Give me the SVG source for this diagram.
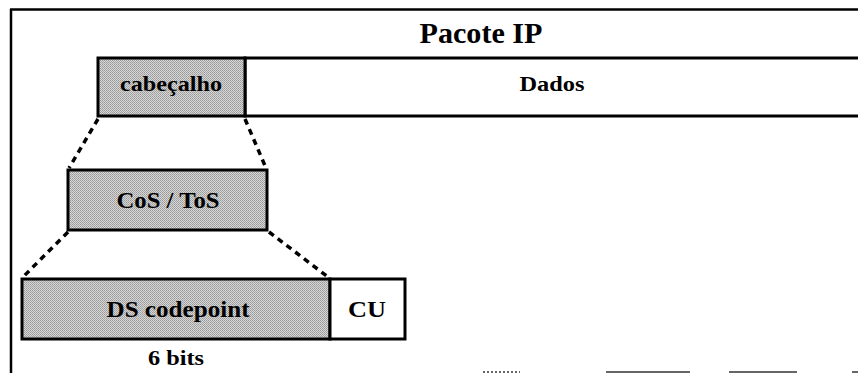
<svg xmlns="http://www.w3.org/2000/svg" width="858" height="373" viewBox="0 0 858 373">
<style>
  .box { stroke: #000; stroke-width: 3; }
  .grey { fill: url(#dither); }
  .white { fill: #fff; }
  .lbl { font-family: "Liberation Serif", "Times New Roman", serif; font-weight: bold; fill: #000; text-anchor: middle; }
  .dash { stroke: #000; stroke-width: 3.5; stroke-dasharray: 6 5; fill: none; }
  .frame { stroke: #000; stroke-width: 2.5; fill: none; }
</style>
<defs>
  <pattern id="dither" width="2" height="2" patternUnits="userSpaceOnUse">
    <rect width="2" height="2" fill="#d6d6d6"/>
    <rect x="0" y="0" width="1" height="1" fill="#9a9a9a"/>
    <rect x="1" y="1" width="1" height="1" fill="#a8a8a8"/>
  </pattern>
</defs>
<rect width="858" height="373" fill="#fff"/>

<g id="frame">
  <line class="frame" x1="11" y1="9" x2="11" y2="373"/>
  <line class="frame" x1="10" y1="9.5" x2="858" y2="9.5" stroke-width="3"/>
  <g stroke="#333" stroke-width="1.5">
    <line x1="483" y1="372" x2="520" y2="372" stroke-dasharray="2 2"/>
    <line x1="606" y1="372" x2="690" y2="372"/>
    <line x1="729" y1="372" x2="797" y2="372"/>
    <line x1="852" y1="372" x2="858" y2="372"/>
  </g>
</g>

<g id="pacote-ip">
  <text class="lbl" x="481" y="43" font-size="29" textLength="123" lengthAdjust="spacingAndGlyphs">Pacote IP</text>
</g>

<g id="dados">
  <rect class="box white" x="245" y="58" width="620" height="58"/>
  <text class="lbl" x="552" y="91" font-size="21" textLength="65" lengthAdjust="spacingAndGlyphs">Dados</text>
</g>

<g id="cabecalho">
  <rect class="box grey" x="98" y="58" width="147" height="58"/>
  <text class="lbl" x="171" y="91" font-size="21" textLength="102" lengthAdjust="spacingAndGlyphs">cabeçalho</text>
</g>

<g id="cos-tos">
  <rect class="box grey" x="68" y="170" width="199" height="60"/>
  <text class="lbl" x="168" y="208" font-size="23" textLength="103" lengthAdjust="spacingAndGlyphs">CoS / ToS</text>
</g>

<g id="ds-codepoint">
  <rect class="box grey" x="22" y="279" width="308" height="60"/>
  <text class="lbl" x="178" y="317" font-size="23" textLength="143" lengthAdjust="spacingAndGlyphs">DS codepoint</text>
</g>

<g id="cu">
  <rect class="box white" x="330" y="279" width="75" height="60"/>
  <text class="lbl" x="367" y="317" font-size="23" textLength="38" lengthAdjust="spacingAndGlyphs">CU</text>
</g>

<g id="six-bits">
  <text class="lbl" x="176" y="365" font-size="22" textLength="56" lengthAdjust="spacingAndGlyphs">6 bits</text>
</g>

<g id="connectors">
  <line class="dash" x1="98" y1="119" x2="69" y2="168"/>
  <line class="dash" x1="245" y1="119" x2="266" y2="168"/>
  <line class="dash" x1="68" y1="232" x2="23" y2="277"/>
  <line class="dash" x1="269" y1="232" x2="328" y2="277"/>
</g>
</svg>
